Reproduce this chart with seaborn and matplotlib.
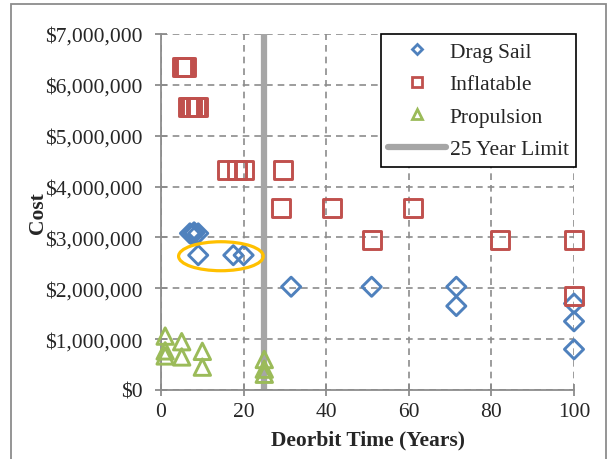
import matplotlib
matplotlib.use("Agg")
import matplotlib.pyplot as plt
import seaborn as sns
import pandas as pd
from matplotlib.lines import Line2D
from matplotlib.patches import Ellipse, Rectangle
from matplotlib.ticker import FuncFormatter

# Drag sail points (deorbit years, cost $)
drag_x = [7, 8, 9, 8, 7.5, 9, 17.5, 20, 31.5, 51, 71.5, 71.5, 100, 100, 100]
drag_y = [3.08e6, 3.08e6, 3.08e6, 3.1e6, 3.05e6, 2.65e6, 2.65e6, 2.65e6,
          2.03e6, 2.03e6, 2.03e6, 1.65e6, 1.7e6, 1.35e6, 0.8e6]

# Inflatable points
infl_x = [5, 5.5, 6, 6.5, 7, 7.5, 8.5, 9, 16, 18.5, 20, 29.5, 29, 41.5, 51, 61, 82, 100, 100]
infl_y = [6.35e6, 6.35e6, 6.35e6, 5.57e6, 5.57e6, 5.57e6, 5.57e6, 5.57e6,
          4.33e6, 4.33e6, 4.33e6, 4.33e6, 3.58e6, 3.58e6, 2.95e6, 3.58e6,
          2.95e6, 2.95e6, 1.85e6]

# Propulsion points
prop_x = [1, 1, 1, 5, 5, 10, 10, 25, 25, 25]
prop_y = [1.06e6, 0.77e6, 0.67e6, 0.95e6, 0.65e6, 0.76e6, 0.45e6, 0.6e6, 0.41e6, 0.31e6]

limit_year = 25

blue = "#4F81BD"
red = "#C0504D"
green = "#9BBB59"
gray = "#A6A6A6"
orange = "#FFC000"

sns.set_style("white")
plt.rcParams["font.family"] = ["Liberation Serif", "DejaVu Serif"]

fig = plt.figure(figsize=(6.1, 4.6), dpi=100)
ax = fig.add_axes([0.264, 0.15, 0.677, 0.774])

# outer chart frame
fig.patches.append(Rectangle((11 / 610, -0.05), 595 / 610, 1.0 - 5 / 460 + 0.05,
                             transform=fig.transFigure, fill=False,
                             edgecolor="#8C8C8C", lw=1.3, zorder=0))

ax.axvline(limit_year, color=gray, lw=4.5, zorder=2)

series = [
    (drag_x, drag_y, "D", 95, blue),
    (infl_x, infl_y, "s", 170, red),
    (prop_x, prop_y, "^", 140, green),
]
for xs, ys, mk, sz, col in series:
    df = pd.DataFrame({"x": xs, "y": ys})
    sns.scatterplot(data=df, x="x", y="y", marker=mk, s=sz, fc="none",
                    ec=col, linewidth=2.1, ax=ax, zorder=3, clip_on=False)

ax.add_patch(Ellipse((14.5, 2.63e6), 20.5, 0.57e6, fill=False,
                     edgecolor=orange, lw=2.3, zorder=4))

ax.set_xlim(0, 100)
ax.set_ylim(0, 7e6)
ax.set_xticks(range(0, 101, 20))
ax.set_yticks(range(0, 7000001, 1000000))
ax.yaxis.set_major_formatter(FuncFormatter(lambda v, p: "${:,.0f}".format(v)))
ax.grid(True, color="#8C8C8C", ls=(0, (4, 3)), lw=1.2)
ax.set_axisbelow(True)
for s in ["top", "right"]:
    ax.spines[s].set_visible(False)
for s in ["left", "bottom"]:
    ax.spines[s].set_color("#8C8C8C")
    ax.spines[s].set_linewidth(1.3)
ax.tick_params(direction="inout", length=9, width=1.3, color="#8C8C8C",
               labelsize=15.5, left=True, bottom=True)
ax.tick_params(axis="y", pad=9)
ax.tick_params(axis="x", pad=4)
ax.set_xlabel("Deorbit Time (Years)", fontsize=15.5, fontweight="bold", labelpad=6)
ax.set_ylabel("Cost", fontsize=15.5, fontweight="bold", labelpad=-2)

handles = [
    Line2D([], [], ls="none", marker="D", ms=5, mfc="none", mec=blue, mew=2),
    Line2D([], [], ls="none", marker="s", ms=7, mfc="none", mec=red, mew=2),
    Line2D([], [], ls="none", marker="^", ms=7, mfc="none", mec=green, mew=2),
    Line2D([], [], color=gray, lw=4.5),
]
labels = ["Drag Sail", "Inflatable", "Propulsion", "25 Year Limit"]
leg = ax.legend(handles, labels, loc="upper right", bbox_to_anchor=(1.005, 1.0),
                fontsize=15.5, frameon=True, fancybox=False, framealpha=1,
                edgecolor="black", borderpad=0.35, labelspacing=0.58,
                handlelength=2.7, handletextpad=0.15, borderaxespad=0.0)
leg.get_frame().set_linewidth(1.2)

fig.savefig("out.png", dpi=100)
